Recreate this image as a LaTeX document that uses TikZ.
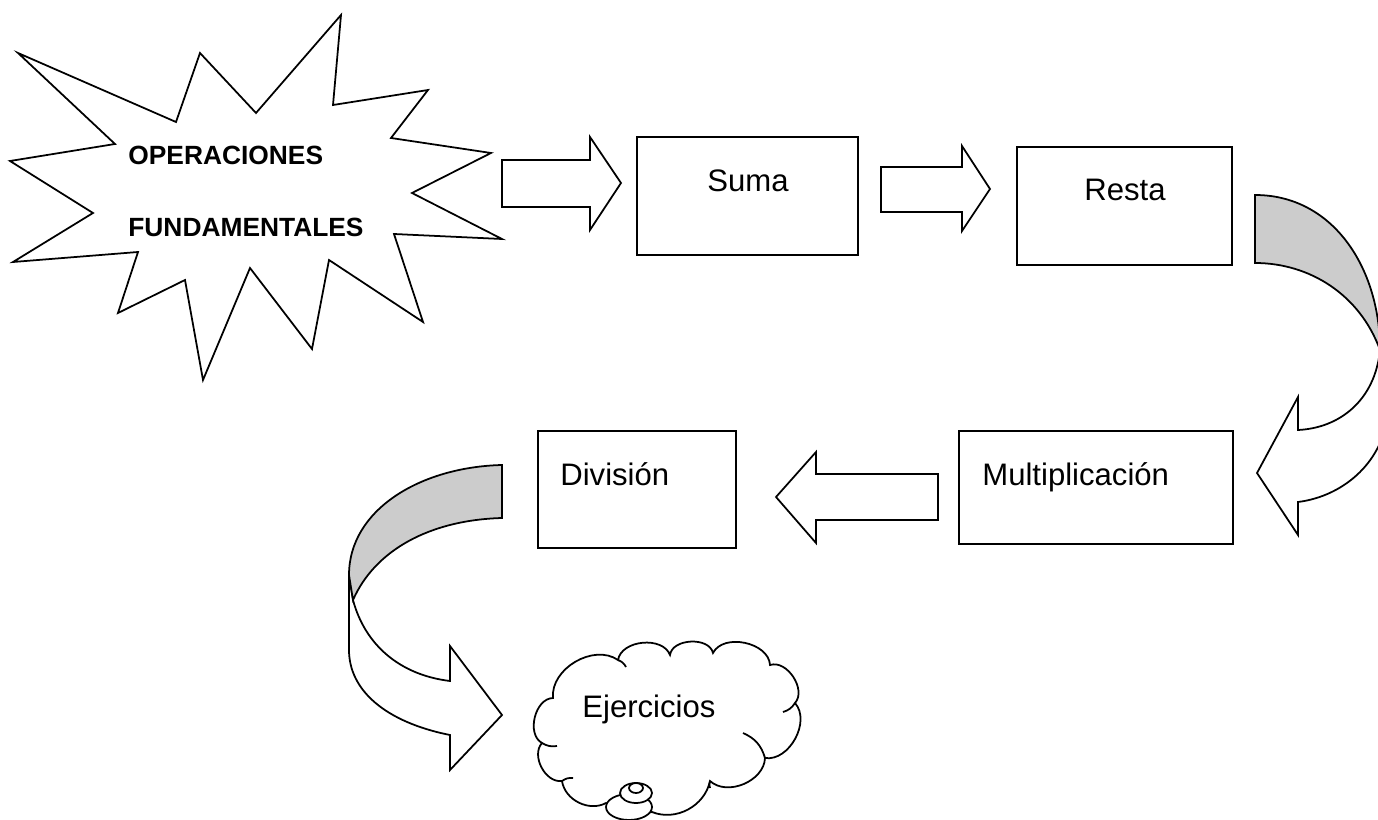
\documentclass[tikz,border=0pt]{standalone}
\usepackage{fontspec}
\setmainfont{Liberation Sans}
\definecolor{bandgray}{RGB}{204,204,204}
\begin{document}
\begin{tikzpicture}[x=0.02cm,y=-0.02cm,
  outline/.style={draw=black,line width=1pt,fill=white},
  box/.style={outline,rectangle,inner sep=0pt},
  lbl/.style={inner sep=0pt,anchor=base west,font=\fontsize{17.7}{21}\selectfont},
  boldlbl/.style={inner sep=0pt,anchor=base west,font=\fontsize{15}{18}\selectfont\bfseries},
  tail/.style={draw=black,line width=1pt}]
\useasboundingbox (0,0) rectangle (1378,820);

% ---- starburst title ----
\draw[outline] (18,53) -- (176,122) -- (200,53) -- (256,113) -- (341,15)
  -- (333,105) -- (428,90) -- (391,138) -- (491,153) -- (412,193)
  -- (502,239) -- (394,234) -- (423,322) -- (329,260) -- (312,349)
  -- (250,268) -- (203,380) -- (185,280) -- (118,313) -- (138,252)
  -- (13,262) -- (93,213) -- (10,161) -- (115,144) -- cycle;
\node[boldlbl] (t1) at (128,165) {OPERACIONES};
\node[boldlbl] (t2) at (128,237) {FUNDAMENTALES};

% ---- boxes ----
\node[box,minimum width=4.42cm,minimum height=2.36cm] (suma) at (747.5,196) {};
\node[box,minimum width=4.30cm,minimum height=2.36cm] (resta) at (1124.5,206) {};
\node[box,minimum width=5.48cm,minimum height=2.26cm] (mult) at (1096,487.5) {};
\node[box,minimum width=3.96cm,minimum height=2.34cm] (div) at (637,489.5) {};
\node[lbl] at (707,192) {Suma};
\node[lbl] at (1084,201) {Resta};
\node[lbl] at (982,485) {Multiplicación};
\node[lbl] at (560,485) {División};

% ---- straight block arrows ----
\draw[outline] (502,160) -- (590,160) -- (590,137) -- (621,183) -- (590,230)
  -- (590,207) -- (502,207) -- cycle;
\draw[outline] (881,167) -- (962,167) -- (962,146) -- (990,189) -- (962,231)
  -- (962,212) -- (881,212) -- cycle;
\draw[outline] (938,474) -- (816,474) -- (816,452) -- (776,497) -- (816,543)
  -- (816,520) -- (938,520) -- cycle;

% ---- curved arrow from Resta down to Multiplicacion ----
\draw[outline,fill=bandgray] (1255,195) .. controls (1333,195) and (1380,268) .. (1380,350)
  .. controls (1360,295) and (1310,263) .. (1255,263) -- cycle;
\draw[outline] (1380,350) .. controls (1375,400) and (1340,428) .. (1298,430)
  -- (1298,397) -- (1257,473) -- (1298,535) -- (1298,502)
  .. controls (1345,496) and (1385,460) .. (1388,410)
  .. controls (1390,380) and (1385,360) .. (1380,350) -- cycle;

% ---- curved arrow from Division down to Ejercicios ----
\draw[outline] (353,600) .. controls (365,645) and (400,675) .. (450,681)
  -- (450,646) -- (502,715) -- (450,770) -- (450,735)
  .. controls (385,722) and (349,690) .. (349,650) -- (349,575) -- cycle;
\draw[outline,fill=bandgray] (502,465) .. controls (420,467) and (349,510) .. (349,575)
  -- (353,600) .. controls (375,550) and (430,520) .. (502,518) -- cycle;

% ---- cloud ----
\coordinate (c1) at (553,698);
\coordinate (c2) at (618,660);
\coordinate (c3) at (670,655);
\coordinate (c4) at (713,653);
\coordinate (c5) at (770,665);
\coordinate (c6) at (795,703);
\coordinate (c7) at (765,758);
\coordinate (c8) at (710,781);
\coordinate (c9) at (652,812);
\coordinate (c10) at (606,803);
\coordinate (c11) at (562,781);
\coordinate (c12) at (542,743);
\draw[outline] (c1) to[bend left=65] (c2) to[bend left=75] (c3) to[bend left=80] (c4)
  to[bend left=75] (c5) to[bend left=75] (c6) to[bend left=70] (c7)
  to[bend left=65] (c8) to[bend left=50] (c9) to[bend left=20] (c10)
  to[bend left=55] (c11) to[bend left=70] (c12) to[bend left=75] (c1) -- cycle;
\draw[tail] (743,733) to[bend left=25] (c7);
\draw[tail] (783,712) to[bend right=20] (c6);
\draw[tail] (557,746) to[bend left=20] (c12);
\draw[tail] (573,778) to[bend right=20] (c11);
\draw[tail] (626,667) to[bend right=20] (c2);
\draw[tail] (710,788) to[bend left=20] (c8);
\node[lbl] (ej) at (582,717) {Ejercicios};
\draw[outline] (629,807) ellipse [x radius=0.46cm,y radius=0.26cm];
\draw[outline] (636,793) ellipse [x radius=0.32cm,y radius=0.2cm];
\draw[outline] (636,788) ellipse [x radius=0.14cm,y radius=0.1cm];
\end{tikzpicture}
\end{document}
